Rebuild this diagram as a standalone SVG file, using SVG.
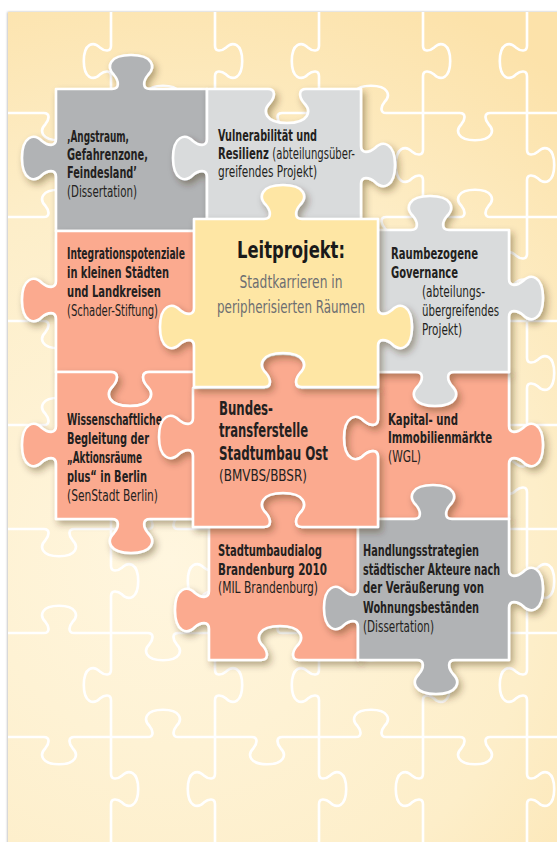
<svg xmlns="http://www.w3.org/2000/svg" xmlns:xlink="http://www.w3.org/1999/xlink" width="557" height="842" viewBox="0 0 557 842">
<defs>
<radialGradient id="bgGrad" cx="170" cy="560" r="620" gradientUnits="userSpaceOnUse">
<stop offset="0" stop-color="#fff6df"/>
<stop offset="0.6" stop-color="#fdeec9"/>
<stop offset="1" stop-color="#fce2aa"/>
</radialGradient>
<filter id="sh" x="-25%" y="-25%" width="160%" height="160%">
<feDropShadow dx="3" dy="4" stdDeviation="3.5" flood-color="#3a2a10" flood-opacity="0.38"/>
</filter>
<filter id="psh" x="-5%" y="-5%" width="110%" height="110%">
<feDropShadow dx="-0.5" dy="0" stdDeviation="1.2" flood-color="#000" flood-opacity="0.3"/>
</filter>
<clipPath id="panelClip"><rect x="8" y="12" width="560" height="840"/></clipPath>
<path id="hA" d="M-10,0 H46 c8,0 7,8 2,14 c-8,8 -5,20 17,20 c22,0 25,-12 17,-20 c-5,-6 -6,-14 2,-14 H176 c8,0 7,-8 2,-14 c-8,-8 -5,-20 17,-20 c22,0 25,12 17,20 c-5,6 -6,14 2,14 H306 c8,0 7,8 2,14 c-8,8 -5,20 17,20 c22,0 25,-12 17,-20 c-5,-6 -6,-14 2,-14 H436 c8,0 7,-8 2,-14 c-8,-8 -5,-20 17,-20 c22,0 25,12 17,20 c-5,6 -6,14 2,14 H566 c8,0 7,8 2,14 c-8,8 -5,20 17,20 c22,0 25,-12 17,-20 c-5,-6 -6,-14 2,-14 H700"/>
<path id="hB" d="M-10,0 H46 c8,0 7,-8 2,-14 c-8,-8 -5,-20 17,-20 c22,0 25,12 17,20 c-5,6 -6,14 2,14 H176 c8,0 7,8 2,14 c-8,8 -5,20 17,20 c22,0 25,-12 17,-20 c-5,-6 -6,-14 2,-14 H306 c8,0 7,-8 2,-14 c-8,-8 -5,-20 17,-20 c22,0 25,12 17,20 c-5,6 -6,14 2,14 H436 c8,0 7,8 2,14 c-8,8 -5,20 17,20 c22,0 25,-12 17,-20 c-5,-6 -6,-14 2,-14 H566 c8,0 7,-8 2,-14 c-8,-8 -5,-20 17,-20 c22,0 25,12 17,20 c-5,6 -6,14 2,14 H700"/>
<path id="vA" d="M0,-10 V46 c0,8 -8,7 -14,2 c-8,-8 -20,-5 -20,17 c0,22 12,25 20,17 c6,-5 14,-6 14,2 V176 c0,8 8,7 14,2 c8,-8 20,-5 20,17 c0,22 -12,25 -20,17 c-6,-5 -14,-6 -14,2 V306 c0,8 -8,7 -14,2 c-8,-8 -20,-5 -20,17 c0,22 12,25 20,17 c6,-5 14,-6 14,2 V436 c0,8 8,7 14,2 c8,-8 20,-5 20,17 c0,22 -12,25 -20,17 c-6,-5 -14,-6 -14,2 V566 c0,8 -8,7 -14,2 c-8,-8 -20,-5 -20,17 c0,22 12,25 20,17 c6,-5 14,-6 14,2 V696 c0,8 8,7 14,2 c8,-8 20,-5 20,17 c0,22 -12,25 -20,17 c-6,-5 -14,-6 -14,2 V826 c0,8 -8,7 -14,2 c-8,-8 -20,-5 -20,17 c0,22 12,25 20,17 c6,-5 14,-6 14,2 V956 c0,8 8,7 14,2 c8,-8 20,-5 20,17 c0,22 -12,25 -20,17 c-6,-5 -14,-6 -14,2 V1060"/>
<path id="vB" d="M0,-10 V46 c0,8 8,7 14,2 c8,-8 20,-5 20,17 c0,22 -12,25 -20,17 c-6,-5 -14,-6 -14,2 V176 c0,8 -8,7 -14,2 c-8,-8 -20,-5 -20,17 c0,22 12,25 20,17 c6,-5 14,-6 14,2 V306 c0,8 8,7 14,2 c8,-8 20,-5 20,17 c0,22 -12,25 -20,17 c-6,-5 -14,-6 -14,2 V436 c0,8 -8,7 -14,2 c-8,-8 -20,-5 -20,17 c0,22 12,25 20,17 c6,-5 14,-6 14,2 V566 c0,8 8,7 14,2 c8,-8 20,-5 20,17 c0,22 -12,25 -20,17 c-6,-5 -14,-6 -14,2 V696 c0,8 -8,7 -14,2 c-8,-8 -20,-5 -20,17 c0,22 12,25 20,17 c6,-5 14,-6 14,2 V826 c0,8 8,7 14,2 c8,-8 20,-5 20,17 c0,22 -12,25 -20,17 c-6,-5 -14,-6 -14,2 V956 c0,8 -8,7 -14,2 c-8,-8 -20,-5 -20,17 c0,22 12,25 20,17 c6,-5 14,-6 14,2 V1060"/>
</defs>
<style>
.piece { stroke: #ffffff; stroke-width: 2.6; stroke-linejoin: round; filter: url(#sh); }
.dg { fill: #b1b3b5; }
.lg { fill: #d9dbdc; }
.sa { fill: #fbaa8f; }
.ye { fill: #fee6a4; }
text { font-family: "Liberation Sans Narrow", "DejaVu Sans Condensed", "Liberation Sans", sans-serif; fill: #231f20; }
.b { font-weight: bold; font-size: 16px; }
.r { font-weight: normal; font-size: 16px; }
.bb { font-weight: bold; font-size: 20px; }
.t { font-weight: bold; font-size: 22.5px; fill: #1a1a1a; }
.s { font-weight: normal; font-size: 17.5px; fill: #6d6e71; }
.w { font-weight: normal; }
</style>
<rect x="0" y="0" width="557" height="842" fill="#ffffff"/>
<rect x="8" y="12" width="560" height="840" fill="url(#bgGrad)" filter="url(#psh)"/>
<g id="background-grid" clip-path="url(#panelClip)">
<g transform="translate(7,9) scale(0.8)" fill="none" stroke="#ffffff" stroke-width="3.3" stroke-linejoin="round">
<use xlink:href="#hA" y="130"/>
<use xlink:href="#hB" y="260"/>
<use xlink:href="#hA" y="390"/>
<use xlink:href="#hB" y="520"/>
<use xlink:href="#hA" y="650"/>
<use xlink:href="#hB" y="780"/>
<use xlink:href="#hA" y="910"/>
<use xlink:href="#vA" x="130"/>
<use xlink:href="#vB" x="260"/>
<use xlink:href="#vA" x="390"/>
<use xlink:href="#vB" x="520"/>
<use xlink:href="#vA" x="650"/>
</g>
</g>
<g id="connectors"/>
<g id="angstraum">
<path class="piece dg" d="M56,89 H112 c8,0 7,-8 2,-14 c-8,-8 -5,-20 17,-20 c22,0 25,12 17,20 c-5,6 -6,14 2,14 H207 V231 H56 V177 c0,-8 -8,-7 -14,-2 c-8,8 -20,5 -20,-17 c0,-22 12,-25 20,-17 c6,5 14,6 14,-2 Z"/>
<text class="b" x="67" y="142" textLength="62" lengthAdjust="spacingAndGlyphs">‚Angstraum,</text>
<text class="b" x="67" y="160" textLength="81" lengthAdjust="spacingAndGlyphs">Gefahrenzone,</text>
<text class="b" x="67" y="178" textLength="70" lengthAdjust="spacingAndGlyphs">Feindesland’</text>
<text class="r" x="67" y="197" textLength="70" lengthAdjust="spacingAndGlyphs">(Dissertation)</text>
</g>
<g id="vulnerabilitaet">
<path class="piece lg" d="M207,89 H268 c8,0 7,8 2,14 c-8,8 -5,20 17,20 c22,0 25,-12 17,-20 c-5,-6 -6,-14 2,-14 H361 V146 c0,8 8,7 14,2 c8,-8 20,-5 20,17 c0,22 -12,25 -20,17 c-6,-5 -14,-6 -14,2 V231 H207 V177 c0,-8 -8,-7 -14,-2 c-8,8 -20,5 -20,-17 c0,-22 12,-25 20,-17 c6,5 14,6 14,-2 Z"/>
<text class="b" x="218" y="141" textLength="99" lengthAdjust="spacingAndGlyphs">Vulnerabilität und</text>
<text class="b" x="218" y="159" textLength="137" lengthAdjust="spacingAndGlyphs">Resilienz <tspan class="w">(abteilungsüber-</tspan></text>
<text class="r" x="218" y="177" textLength="99" lengthAdjust="spacingAndGlyphs">greifendes Projekt)</text>
</g>
<g id="integrationspotenziale">
<path class="piece sa" d="M56,231 H207 V372 H149 c-8,0 -7,8 -2,14 c8,8 5,20 -17,20 c-22,0 -25,-12 -17,-20 c5,-6 6,-14 -2,-14 H56 V319 c0,-8 -8,-7 -14,-2 c-8,8 -20,5 -20,-17 c0,-22 12,-25 20,-17 c6,5 14,6 14,-2 Z"/>
<text class="b" x="67" y="259" textLength="118" lengthAdjust="spacingAndGlyphs">Integrationspotenziale</text>
<text class="b" x="67" y="278" textLength="102" lengthAdjust="spacingAndGlyphs">in kleinen Städten</text>
<text class="b" x="67" y="297" textLength="94" lengthAdjust="spacingAndGlyphs">und Landkreisen</text>
<text class="r" x="67" y="316" textLength="91" lengthAdjust="spacingAndGlyphs">(Schader-Stiftung)</text>
</g>
<g id="wissenschaftliche-begleitung">
<path class="piece sa" d="M56,372 H111 c8,0 7,8 2,14 c-8,8 -5,20 17,20 c22,0 25,-12 17,-20 c-5,-6 -6,-14 2,-14 H207 V519 H150 c-8,0 -7,8 -2,14 c8,8 5,20 -17,20 c-22,0 -25,-12 -17,-20 c5,-6 6,-14 -2,-14 H56 V464 c0,-8 -8,-7 -14,-2 c-8,8 -20,5 -20,-17 c0,-22 12,-25 20,-17 c6,5 14,6 14,-2 Z"/>
<text class="b" x="67" y="425" textLength="95" lengthAdjust="spacingAndGlyphs">Wissenschaftliche</text>
<text class="b" x="67" y="444" textLength="82" lengthAdjust="spacingAndGlyphs">Begleitung der</text>
<text class="b" x="67" y="463" textLength="75" lengthAdjust="spacingAndGlyphs">„Aktionsräume</text>
<text class="b" x="67" y="482" textLength="80" lengthAdjust="spacingAndGlyphs">plus“ in Berlin</text>
<text class="r" x="67" y="501" textLength="91" lengthAdjust="spacingAndGlyphs">(SenStadt Berlin)</text>
</g>
<g id="kapital">
<path class="piece sa" d="M378,372 H509 V426 c0,8 8,7 14,2 c8,-8 20,-5 20,17 c0,22 -12,25 -20,17 c-6,-5 -14,-6 -14,2 V519 H378 V457 c0,-8 -8,-7 -14,-2 c-8,8 -20,5 -20,-17 c0,-22 12,-25 20,-17 c6,5 14,6 14,-2 Z"/>
<text class="b" x="388" y="425" textLength="70" lengthAdjust="spacingAndGlyphs">Kapital- und</text>
<text class="b" x="388" y="443" textLength="104" lengthAdjust="spacingAndGlyphs">Immobilienmärkte</text>
<text class="r" x="388" y="462" textLength="33" lengthAdjust="spacingAndGlyphs">(WGL)</text>
</g>
<g id="raumbezogene-governance">
<path class="piece lg" d="M358,230 H411 c8,0 7,-8 2,-14 c-8,-8 -5,-20 17,-20 c22,0 25,12 17,20 c-5,6 -6,14 2,14 H509 V279 c0,8 8,7 14,2 c8,-8 20,-5 20,17 c0,22 -12,25 -20,17 c-6,-5 -14,-6 -14,2 V372 H454 c-8,0 -7,8 -2,14 c8,8 5,20 -17,20 c-22,0 -25,-12 -17,-20 c5,-6 6,-14 -2,-14 H358 Z"/>
<text class="b" x="391" y="259" textLength="87" lengthAdjust="spacingAndGlyphs">Raumbezogene</text>
<text class="b" x="391" y="278" textLength="67" lengthAdjust="spacingAndGlyphs">Governance</text>
<text class="r" x="422" y="297" textLength="63" lengthAdjust="spacingAndGlyphs">(abteilungs-</text>
<text class="r" x="422" y="316" textLength="77" lengthAdjust="spacingAndGlyphs">übergreifendes</text>
<text class="r" x="422" y="335" textLength="40" lengthAdjust="spacingAndGlyphs">Projekt)</text>
</g>
<g id="stadtumbaudialog">
<path class="piece sa" d="M209,527 H264 c8,0 7,-8 2,-14 c-8,-8 -5,-20 17,-20 c22,0 25,12 17,20 c-5,6 -6,14 2,14 H358 V660 H299 c-8,0 -7,-8 -2,-14 c8,-8 5,-20 -17,-20 c-22,0 -25,12 -17,20 c5,6 6,14 -2,14 H209 V629 c0,-8 -8,-7 -14,-2 c-8,8 -20,5 -20,-17 c0,-22 12,-25 20,-17 c6,5 14,6 14,-2 Z"/>
<text class="b" x="218" y="556" textLength="104" lengthAdjust="spacingAndGlyphs">Stadtumbaudialog</text>
<text class="b" x="218" y="575" textLength="109" lengthAdjust="spacingAndGlyphs">Brandenburg 2010</text>
<text class="r" x="218" y="593" textLength="100" lengthAdjust="spacingAndGlyphs">(MIL Brandenburg)</text>
</g>
<g id="handlungsstrategien">
<path class="piece dg" d="M358,519 H414 c8,0 7,-8 2,-14 c-8,-8 -5,-20 17,-20 c22,0 25,12 17,20 c-5,6 -6,14 2,14 H509 V570 c0,8 8,7 14,2 c8,-8 20,-5 20,17 c0,22 -12,25 -20,17 c-6,-5 -14,-6 -14,2 V660 H455 c-8,0 -7,8 -2,14 c8,8 5,20 -17,20 c-22,0 -25,-12 -17,-20 c5,-6 6,-14 -2,-14 H358 V627 c0,-8 -8,-7 -14,-2 c-8,8 -20,5 -20,-17 c0,-22 12,-25 20,-17 c6,5 14,6 14,-2 Z"/>
<text class="b" x="363" y="556" textLength="116" lengthAdjust="spacingAndGlyphs">Handlungsstrategien</text>
<text class="b" x="363" y="575" textLength="137" lengthAdjust="spacingAndGlyphs">städtischer Akteure nach</text>
<text class="b" x="363" y="593" textLength="121" lengthAdjust="spacingAndGlyphs">der Veräußerung von</text>
<text class="b" x="363" y="613" textLength="116" lengthAdjust="spacingAndGlyphs">Wohnungsbeständen</text>
<text class="r" x="363" y="632" textLength="71" lengthAdjust="spacingAndGlyphs">(Dissertation)</text>
</g>
<g id="bundestransferstelle">
<path class="piece sa" d="M193,388 H264 c8,0 7,-8 2,-14 c-8,-8 -5,-20 17,-20 c22,0 25,12 17,20 c-5,6 -6,14 2,14 H378 V419 c0,8 -8,7 -14,2 c-8,-8 -20,-5 -20,17 c0,22 12,25 20,17 c6,-5 14,-6 14,2 V527 H302 c-8,0 -7,-8 -2,-14 c8,-8 5,-20 -17,-20 c-22,0 -25,12 -17,20 c5,6 6,14 -2,14 H193 V456 c0,-8 -8,-7 -14,-2 c-8,8 -20,5 -20,-17 c0,-22 12,-25 20,-17 c6,5 14,6 14,-2 Z"/>
<text class="bb" x="219" y="415" textLength="54" lengthAdjust="spacingAndGlyphs">Bundes-</text>
<text class="bb" x="219" y="437" textLength="89" lengthAdjust="spacingAndGlyphs">transferstelle</text>
<text class="bb" x="219" y="460" textLength="109" lengthAdjust="spacingAndGlyphs">Stadtumbau Ost</text>
<text class="r" x="219" y="481" textLength="88" lengthAdjust="spacingAndGlyphs">(BMVBS/BBSR)</text>
</g>
<g id="leitprojekt">
<path class="piece ye" d="M194,219 H264 c8,0 7,-8 2,-14 c-8,-8 -5,-20 17,-20 c22,0 25,12 17,20 c-5,6 -6,14 2,14 H378 V308 c0,8 8,7 14,2 c8,-8 20,-5 20,17 c0,22 -12,25 -20,17 c-6,-5 -14,-6 -14,2 V387 H302 c-8,0 -7,-8 -2,-14 c8,-8 5,-20 -17,-20 c-22,0 -25,12 -17,20 c5,6 6,14 -2,14 H194 V346 c0,-8 -8,-7 -14,-2 c-8,8 -20,5 -20,-17 c0,-22 12,-25 20,-17 c6,5 14,6 14,-2 Z"/>
<text class="t" x="291" y="258" text-anchor="middle" textLength="108" lengthAdjust="spacingAndGlyphs">Leitprojekt:</text>
<text class="s" x="291" y="288" text-anchor="middle" textLength="103" lengthAdjust="spacingAndGlyphs">Stadtkarrieren in</text>
<text class="s" x="291" y="313" text-anchor="middle" textLength="148" lengthAdjust="spacingAndGlyphs">peripherisierten Räumen</text>
</g>
</svg>
